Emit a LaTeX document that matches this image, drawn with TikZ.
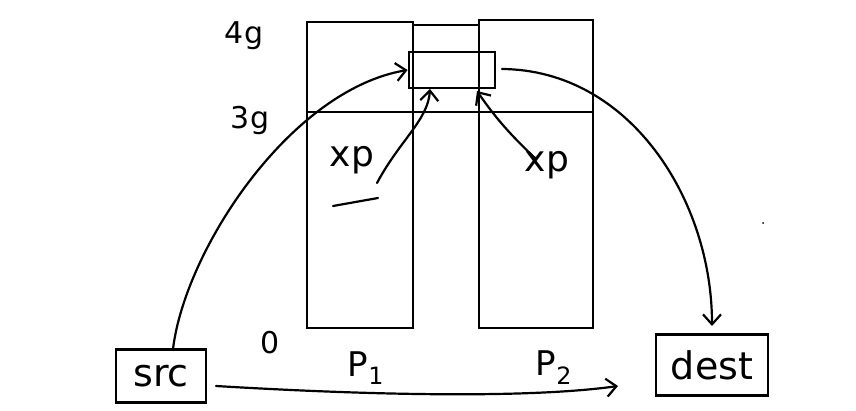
\documentclass[tikz,border=0pt]{standalone}
\usepackage{fontspec}
\setmainfont{DejaVu Sans}
\usetikzlibrary{arrows.meta}
\tikzset{
  ink/.style={line width=2.8pt, black},
  pen/.style={line width=2.2pt, black, line cap=round, line join=round},
  barb/.style={-{Straight Barb[length=10pt,width=18pt,line width=2.2pt]}},
  boxnode/.style={draw, line width=2.8pt, inner sep=0pt, font=\fontsize{38}{38}\selectfont},
  lbl/.style={inner sep=0pt, font=\fontsize{30}{30}\selectfont}
}
\begin{document}
\begin{tikzpicture}[x=1pt,y=-1pt]
\useasboundingbox (0,0) rectangle (856,411);
% columns
\node[draw, ink, minimum width=106pt, minimum height=306pt, inner sep=0pt] (p1col) at (360,175) {};
\node[draw, ink, minimum width=114pt, minimum height=308pt, inner sep=0pt] (p2col) at (536,174) {};
\coordinate (lvl) at (0,112);
\draw[ink] (p1col.north east |- 0,25) -- (p2col.north west |- 0,25);
\draw[ink] (p1col.west |- lvl) -- (p2col.east |- lvl);
% buffer
\node[draw, ink, minimum width=86pt, minimum height=36pt, inner sep=0pt] (buf) at (452,70) {};
% labels
\node[lbl] (l4g) at (244,36) {4g};
\node[lbl] (l3g) at (250,120) {3g};
\node[lbl, font=\fontsize{36}{36}\selectfont] (xp1) at (352,160) {xp};
\node[lbl, font=\fontsize{36}{36}\selectfont] (xp2) at (547,165) {xp};
\node[lbl] (zero) at (270,343) {0};
\node[lbl, font=\fontsize{34}{34}\selectfont] (lp1) at (366,368) {P\textsubscript{1}};
\node[lbl, font=\fontsize{34}{34}\selectfont] (lp2) at (554,368) {P\textsubscript{2}};
\coordinate (ul1) at (333,206);
\coordinate (ul2) at (378,198);
\draw[pen] (ul1) -- (ul2);
% src / dest
\node[boxnode, minimum width=90pt, minimum height=53pt] (src) at (161,376) {src};
\node[boxnode, minimum width=112pt, minimum height=61pt] (dest) at (712,365) {dest};
\fill (763,223) circle (1pt);
% connector end points
\coordinate (s0) at (173,349);
\coordinate (a1s) at (377,183);
\coordinate (a1e) at (430,89);
\coordinate (a2s) at (535,158);
\coordinate (a2e) at (477,91);
\coordinate (b1s) at (502,69);
\coordinate (b1e) at (712,326);
\coordinate (f1) at (216,386);
\coordinate (f2) at (618,386);
% connectors
\draw[pen, barb] (s0) .. controls (185,250) and (290,90) .. (buf.west);
\draw[pen, barb] (a1s) .. controls (400,140) and (428,120) .. (a1e);
\draw[pen, barb] (a2s) .. controls (505,130) and (490,110) .. (a2e);
\draw[pen, barb] (b1s) .. controls (630,70) and (712,200) .. (b1e);
\draw[pen, barb] (f1) .. controls (400,397) and (540,397) .. (f2);
\end{tikzpicture}
\end{document}
